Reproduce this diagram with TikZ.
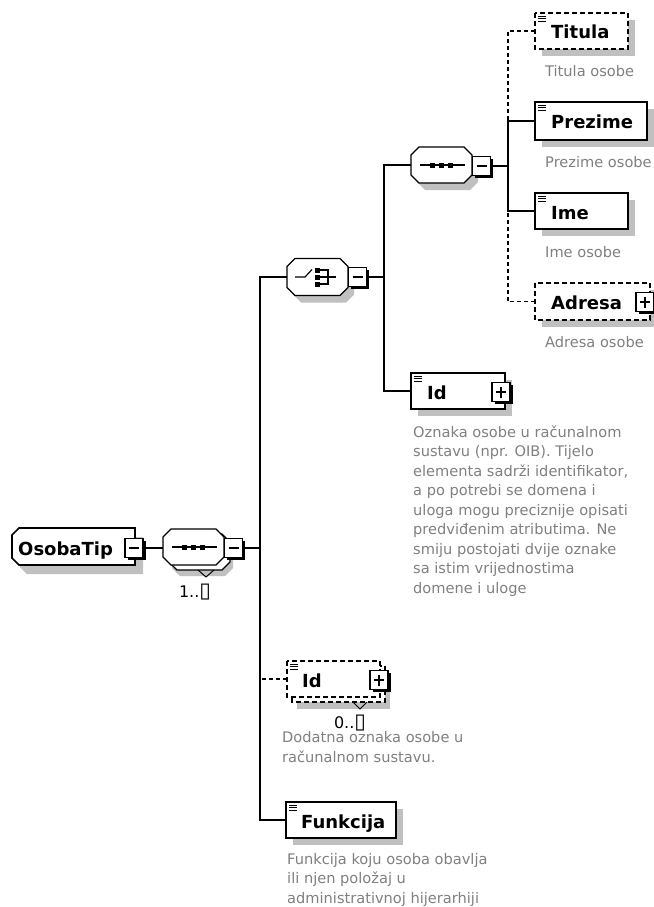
\documentclass[tikz,border=0pt]{standalone}
\usepackage{fontspec}
\setmainfont{DejaVu Sans}
\usetikzlibrary{calc}
\definecolor{shadowgray}{RGB}{192,192,192}
\definecolor{descgray}{RGB}{128,128,128}
\tikzset{
  conn/.style={line width=1.4pt},
  optconn/.style={line width=1.4pt, dash pattern=on 4pt off 3pt},
  boxline/.style={line width=1.6pt},
  dashbox/.style={line width=1.6pt, dash pattern=on 5pt off 3pt},
  area/.style={draw=none, inner sep=0pt, outer sep=0pt, rectangle},
  lbl/.style={anchor=base west, inner sep=0pt, font=\bfseries\fontsize{18}{20}\selectfont},
  desc/.style={anchor=base west, inner sep=0pt, align=left, text=descgray, font=\fontsize{14.6}{19.5}\selectfont},
  mult/.style={anchor=base, inner sep=0pt, font=\fontsize{16}{18}\selectfont},
}
% element box: #1 node, #2 line style
\newcommand\elembox[2]{%
  \fill[shadowgray] ($(#1.north west)+(7,7)$) rectangle ($(#1.south east)+(7,7)$);
  \draw[#2, fill=white] (#1.north west) rectangle (#1.south east);}
\newcommand\elicon[1]{%
  \foreach \d in {3,5.5,8}{\draw[line width=0.9pt] ($(#1.north west)+(3,\d)$) -- ++(8,0);}}
% plus / minus boxes
\newcommand\pmframe[2]{%
  \node[area, minimum width=18pt, minimum height=19pt] (#1) at (#2) {};
  \fill[black] ($(#1.north west)+(2.5,2.5)$) rectangle ($(#1.south east)+(2.5,2.5)$);
  \draw[line width=1.2pt, fill=white] (#1.north west) rectangle (#1.south east);
  \draw[line width=1.2pt] ($(#1.west)+(4,0)$) -- ($(#1.east)+(-4,0)$);}
\newcommand\minusbox[2]{\pmframe{#1}{#2}}
\newcommand\plusbox[2]{\pmframe{#1}{#2}%
  \draw[line width=1.2pt] ($(#1.north)+(0,4)$) -- ($(#1.south)+(0,-4)$);}
% octagon: #1 opts, #2 node, #3 dx, #4 dy
\newcommand\octo[4]{%
  \path[#1] ($(#2.north west)+(8+#3,#4)$) -- ($(#2.north east)+(-8+#3,#4)$)
   -- ($(#2.north east)+(#3,8+#4)$) -- ($(#2.south east)+(#3,-8+#4)$)
   -- ($(#2.south east)+(-8+#3,#4)$) -- ($(#2.south west)+(8+#3,#4)$)
   -- ($(#2.south west)+(#3,-8+#4)$) -- ($(#2.north west)+(#3,8+#4)$) -- cycle;}
\newcommand\seqsym[1]{%
  \draw[line width=1.2pt] ($(#1.center)+(-22,0)$) -- ($(#1.center)+(23,0)$);
  \foreach \s in {-9,0,9}{\fill ($(#1.center)+(\s-2.5,-2.5)$) rectangle ++(5,5);}}
\begin{document}
\begin{tikzpicture}[x=1pt,y=-1pt]
\useasboundingbox (0,0) rectangle (653,907);
\fill[white] (0,0) rectangle (653,907);

% ---------- nodes (areas) ----------
\node[area, minimum width=123pt, minimum height=37pt] (osoba) at (73.5,546.5) {};
\node[area, minimum width=61pt, minimum height=36pt] (mseq) at (193.5,547) {};
\node[area, minimum width=61pt, minimum height=37pt] (choice) at (317.5,277) {};
\node[area, minimum width=61pt, minimum height=36pt] (seq2) at (441.5,165) {};
\node[area, minimum width=93pt, minimum height=36pt] (tit) at (581.5,31) {};
\node[area, minimum width=112pt, minimum height=38pt] (prez) at (591,121) {};
\node[area, minimum width=93pt, minimum height=36pt] (ime) at (581.5,211) {};
\node[area, minimum width=115pt, minimum height=37pt] (adr) at (592.5,301.5) {};
\node[area, minimum width=94pt, minimum height=36pt] (id) at (458,391) {};
\node[area, minimum width=93pt, minimum height=36pt] (oid) at (333.5,679) {};
\node[area, minimum width=110pt, minimum height=36pt] (funk) at (341,820) {};
\coordinate (A) at (260,277);
\coordinate (B) at (384,277);
\coordinate (C) at (508,166);

% ---------- OsobaTip ----------
\path[fill=shadowgray] ($(osoba.north west)+(15,9)$) -- ($(osoba.north east)+(8,9)$) -- ($(osoba.south east)+(8,9)$) -- ($(osoba.south west)+(15,9)$) -- ($(osoba.south west)+(8,2)$) -- ($(osoba.north west)+(8,16)$) -- cycle;
\path[boxline, draw, fill=white] ($(osoba.north west)+(7,0)$) -- (osoba.north east) -- (osoba.south east) -- ($(osoba.south west)+(7,0)$) -- ($(osoba.south west)+(0,-7)$) -- ($(osoba.north west)+(0,7)$) -- cycle;
\node[lbl] (osobaL) at (18,555) {OsobaTip};
\minusbox{osobaPM}{134,548}

% ---------- main sequence (multiple) ----------
\octo{fill=shadowgray}{mseq}{9}{11}
\octo{draw, line width=1.3pt, fill=white}{mseq}{6}{5}
\draw[line width=1pt] (198,570) -- (206,577) -- (214,570);
\octo{draw, line width=1.3pt, fill=white}{mseq}{0}{0}
\seqsym{mseq}
\minusbox{mseqPM}{233.5,548}
\node[mult] (m1) at (195,597) {1..{\fontsize{21}{21}\selectfont ▯}};

% ---------- choice ----------
\octo{fill=shadowgray}{choice}{6}{7}
\octo{draw, line width=1.3pt, fill=white}{choice}{0}{0}
\draw[line width=1.2pt] ($(choice.center)+(-22.5,0)$) -- ($(choice.center)+(-12.5,0)$) -- ($(choice.center)+(-5.5,-7.5)$);
\foreach \s in {-7,0,7}{\fill ($(choice.center)+(-2.5,\s-2.5)$) rectangle ++(5,5);}
\draw[line width=1.2pt] ($(choice.center)+(2.5,-7)$) -- ($(choice.center)+(10.5,-7)$) -- ($(choice.center)+(10.5,7)$) -- ($(choice.center)+(2.5,7)$);
\draw[line width=1.2pt] ($(choice.center)+(2.5,0)$) -- ($(choice.center)+(18,0)$);
\minusbox{choicePM}{357.5,277}

% ---------- inner sequence ----------
\octo{fill=shadowgray}{seq2}{6}{7}
\octo{draw, line width=1.3pt, fill=white}{seq2}{0}{0}
\seqsym{seq2}
\minusbox{seq2PM}{481.5,166}

% ---------- connectors ----------
\draw[conn] (osobaPM.east) -- (osobaPM.east -| mseq.west);
\draw[conn] (mseqPM.east) -- (mseqPM.east -| A);
\draw[conn] (funk.west) -| (A) -- (choice.west);
\draw[optconn] (oid.west) -- (oid.west -| A);
\draw[conn] (choicePM.east) -- (B);
\draw[conn] (id.west) -| (B) |- (seq2.west);
\draw[conn] (seq2PM.east) -- (C);
\draw[conn] (prez.west) -| (C);
\draw[conn] (ime.west) -| (C);
\draw[optconn] (tit.west) -| (prez.west -| C);
\draw[optconn] (adr.west) -| (ime.west -| C);

% ---------- elements ----------
\elembox{tit}{dashbox}\elicon{tit}
\node[lbl] (titL) at (551,39) {Titula};
\node[desc] (titD) at (545,77) {Titula osobe};

\elembox{prez}{boxline}\elicon{prez}
\node[lbl] (prezL) at (551,128) {Prezime};
\node[desc] (prezD) at (545,167) {Prezime osobe};

\elembox{ime}{boxline}\elicon{ime}
\node[lbl] (imeL) at (551,219) {Ime};
\node[desc] (imeD) at (545,257) {Ime osobe};

\elembox{adr}{dashbox}
\node[lbl] (adrL) at (551,309) {Adresa};
\plusbox{adrPM}{645,302}
\node[desc] (adrD) at (545,347) {Adresa osobe};

\elembox{id}{boxline}\elicon{id}
\node[lbl] (idL) at (427,399) {Id};
\plusbox{idPM}{501,392}
\node[desc] (idD) at (413,593) {Oznaka osobe u računalnom\\sustavu (npr. OIB). Tijelo\\elementa sadrži identifikator,\\a po potrebi se domena i\\uloga mogu preciznije opisati\\predviđenim atributima. Ne\\smiju postojati dvije oznake\\sa istim vrijednostima\\domene i uloge};

% optional multiple Id
\fill[shadowgray] ($(oid.north west)+(10,12)$) rectangle ($(oid.south east)+(10,12)$);
\draw[dashbox, fill=white] ($(oid.north west)+(5,5)$) rectangle ($(oid.south east)+(5,5)$);
\draw[line width=1pt] (353,702) -- (360,709) -- (367,702);
\draw[dashbox, fill=white] (oid.north west) rectangle (oid.south east);
\elicon{oid}
\node[lbl] (oidL) at (302,687) {Id};
\plusbox{oidPM}{379,680}
\node[mult] (m0) at (350,728) {0..{\fontsize{21}{21}\selectfont ▯}};
\node[desc] (oidD) at (282,762) {Dodatna oznaka osobe u\\računalnom sustavu.};

\elembox{funk}{boxline}\elicon{funk}
\node[lbl] (funkL) at (301,828) {Funkcija};
\node[desc] (funkD) at (287,903) {Funkcija koju osoba obavlja\\ili njen položaj u\\administrativnoj hijerarhiji};
\end{tikzpicture}
\end{document}
